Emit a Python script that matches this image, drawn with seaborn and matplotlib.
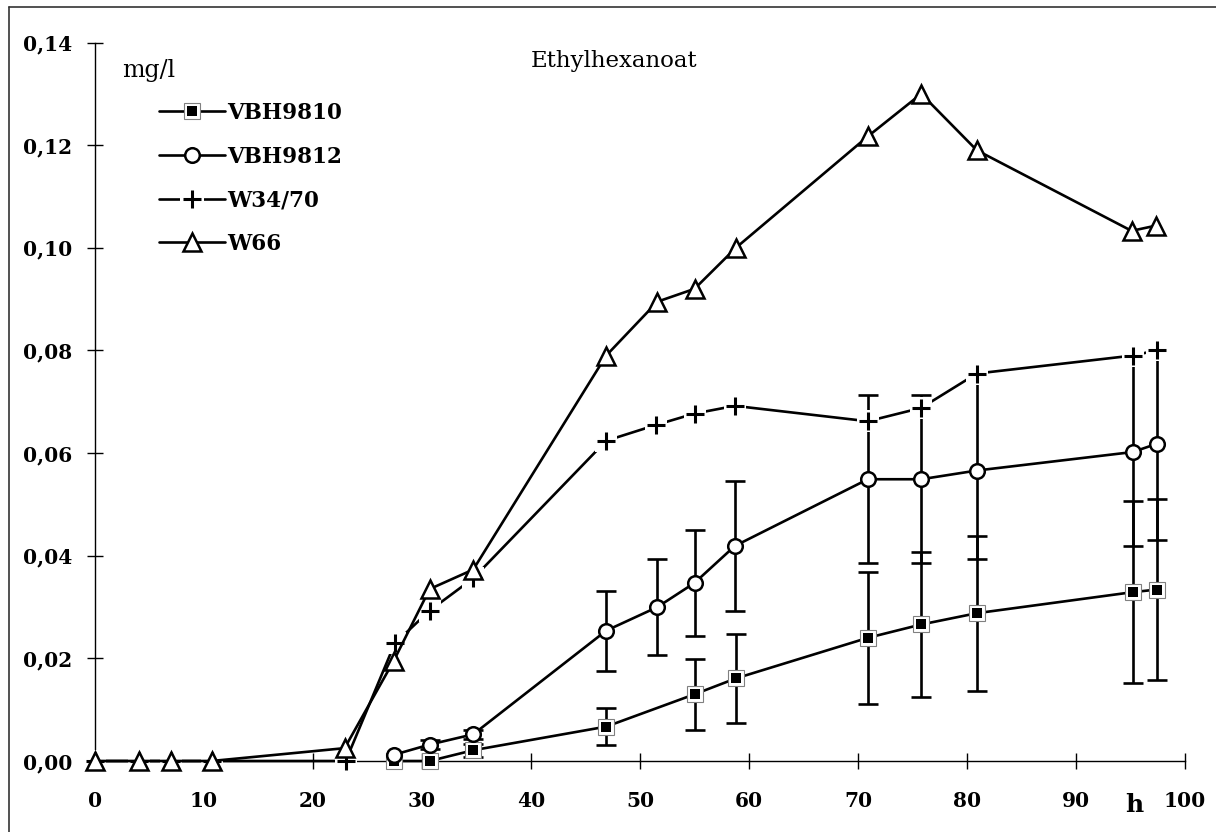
import numpy as np
import matplotlib
matplotlib.use("Agg")
import matplotlib.pyplot as plt
import seaborn as sns
from matplotlib.lines import Line2D
from matplotlib.legend_handler import HandlerTuple
from matplotlib.ticker import FuncFormatter

sns.set_style("ticks")
plt.rcParams["font.family"] = ["DejaVu Serif"]
for k in ["text.color", "axes.labelcolor", "xtick.color", "ytick.color", "axes.edgecolor"]:
    plt.rcParams[k] = "black"

# ---------------- data ----------------
title = "Ethylhexanoat"
unit_label = "mg/l"
x_label = "h"
names = ["VBH9810", "VBH9812", "W34/70", "W66"]

t_vbh9810 = [27.4, 30.7, 34.7, 46.9, 55.0, 58.8, 70.9, 75.8, 80.9, 95.2, 97.4]
v_vbh9810 = [0.0, 0.0, 0.0021, 0.0067, 0.0130, 0.0161, 0.0240, 0.0266, 0.0288, 0.0329, 0.0334]
e_vbh9810 = [0.0, 0.0, 0.0013, 0.0036, 0.0069, 0.0086, 0.0128, 0.0141, 0.0151, 0.0177, 0.0177]

t_vbh9812 = [27.4, 30.7, 34.7, 46.9, 51.6, 55.0, 58.7, 70.9, 75.8, 80.9, 95.2, 97.4]
v_vbh9812 = [0.0012, 0.0032, 0.0052, 0.0254, 0.0300, 0.0347, 0.0419, 0.0549, 0.0549, 0.0566, 0.0602, 0.0618]
e_vbh9812 = [0.0, 0.0008, 0.0009, 0.0078, 0.0093, 0.0104, 0.0127, 0.0164, 0.0164, 0.0173, 0.0183, 0.0188]

t_w3470 = [0, 4, 7, 10.7, 23.0, 27.5, 30.7, 34.7, 46.9, 51.5, 55.0, 58.7, 70.9, 75.8, 80.9, 95.2, 97.4]
v_w3470 = [0, 0, 0, 0, 0, 0.0229, 0.0293, 0.0356, 0.0624, 0.0655, 0.0677, 0.0692,
           0.0662, 0.0688, 0.0755, 0.0790, 0.0800]

t_w66 = [0, 4, 7, 10.7, 22.9, 27.4, 30.7, 34.7, 46.9, 51.6, 55.0, 58.8, 70.9, 75.8, 80.9, 95.1, 97.3]
v_w66 = [0, 0, 0, 0, 0.0025, 0.0195, 0.0335, 0.0373, 0.0790, 0.0895, 0.0920, 0.1000,
         0.1217, 0.1300, 0.1190, 0.1033, 0.1043]

x_ticks = [0, 10, 20, 30, 40, 50, 60, 70, 80, 90, 100]
y_ticks = [0.00, 0.02, 0.04, 0.06, 0.08, 0.10, 0.12, 0.14]

# ---------------- figure ----------------
W, H = 1216, 832
fig = plt.figure(figsize=(W / 100, H / 100), dpi=100)
ax = fig.add_axes([95 / W, 71 / H, 1090 / W, 718.5 / H])

LW = 1.9
ERR_KW = dict(fmt="none", ecolor="black", elinewidth=LW, capsize=7.5, capthick=LW)
PLUS_BG = 15.5


def draw_line(t, v, z):
    sns.lineplot(x=t, y=v, ax=ax, color="black", lw=LW, zorder=z, legend=False,
                 errorbar=None, clip_on=False)


def draw_markers(t, v, z, **kw):
    sns.lineplot(x=t, y=v, ax=ax, color="black", linestyle="none", zorder=z,
                 legend=False, errorbar=None, clip_on=False, **kw)


def draw_err(t, v, e, z):
    t = np.asarray(t); v = np.asarray(v); e = np.asarray(e)
    m = e > 0
    ax.errorbar(t[m], v[m], yerr=e[m], zorder=z, **ERR_KW)


# VBH9810 : black square with white ring and grey border
z = 2
draw_err(t_vbh9810, v_vbh9810, e_vbh9810, z)
draw_line(t_vbh9810, v_vbh9810, z + 0.1)
draw_markers(t_vbh9810, v_vbh9810, z + 0.2, marker="s", markersize=11,
             markerfacecolor="white", markeredgecolor="#808080", markeredgewidth=0.8)
draw_markers(t_vbh9810, v_vbh9810, z + 0.3, marker="s", markersize=7,
             markerfacecolor="black", markeredgecolor="black", markeredgewidth=0)

# VBH9812 : open circle
z = 3
draw_err(t_vbh9812, v_vbh9812, e_vbh9812, z)
draw_line(t_vbh9812, v_vbh9812, z + 0.1)
draw_markers(t_vbh9812, v_vbh9812, z + 0.2, marker="o", markersize=10.5,
             markerfacecolor="white", markeredgecolor="black", markeredgewidth=1.8)

# W34/70 : plus with white background
z = 4
draw_line(t_w3470, v_w3470, z + 0.1)
draw_markers(t_w3470, v_w3470, z + 0.2, marker="s", markersize=PLUS_BG,
             markerfacecolor="white", markeredgecolor="white", markeredgewidth=0)
draw_markers(t_w3470, v_w3470, z + 0.3, marker="+", markersize=12.5,
             markeredgecolor="black", markeredgewidth=2.2)

# W66 : open triangle
z = 5
draw_line(t_w66, v_w66, z + 0.1)
draw_markers(t_w66, v_w66, z + 0.2, marker="^", markersize=12.5,
             markerfacecolor="white", markeredgecolor="black", markeredgewidth=1.8)

# ---------------- axes styling ----------------
ax.set_xlim(0, 100)
ax.set_ylim(0, 0.14)
ax.set_xticks(x_ticks)
ax.set_yticks(y_ticks)
ax.yaxis.set_major_formatter(FuncFormatter(lambda v, p: f"{v:.2f}".replace(".", ",")))
ax.xaxis.set_major_formatter(FuncFormatter(lambda v, p: f"{v:.0f}"))
for s in ["top", "right"]:
    ax.spines[s].set_visible(False)
for s in ["left", "bottom"]:
    ax.spines[s].set_linewidth(1.0)
    ax.spines[s].set_color("black")
    ax.spines[s].set_zorder(1)
ax.tick_params(axis="both", direction="inout", length=11.5, width=1.0, color="black",
               labelcolor="black", labelsize=14.5)
ax.tick_params(axis="x", pad=16)
ax.tick_params(axis="y", pad=10.5)
for lab in ax.get_xticklabels() + ax.get_yticklabels():
    lab.set_fontweight("bold")
ax.set_xlabel("")
ax.set_ylabel("")

# texts
fig.text(614 / W, 1 - 66.7 / H, title, ha="center", va="baseline", fontsize=16.5, color="black")
fig.text(121.7 / W, 1 - 76.7 / H, unit_label, ha="left", va="baseline", fontsize=17, color="black")
fig.text(1134 / W, 1 - 811.7 / H, x_label, ha="center", va="baseline", fontsize=18,
         fontweight="bold", color="black")

# legend
h1 = (Line2D([], [], color="black", lw=LW, marker="s", ms=11, mfc="white", mec="#808080", mew=0.8),
      Line2D([], [], ls="none", marker="s", ms=7, mfc="black", mec="black", mew=0))
h2 = (Line2D([], [], color="black", lw=LW, marker="o", ms=10.5, mfc="white", mec="black", mew=1.8),)
h3 = (Line2D([], [], color="black", lw=LW, marker="s", ms=PLUS_BG + 1.5, mfc="white", mec="white", mew=0),
      Line2D([], [], ls="none", marker="+", ms=12.5, mec="black", mew=2.2))
h4 = (Line2D([], [], color="black", lw=LW, marker="^", ms=12.5, mfc="white", mec="black", mew=1.8),)
leg = ax.legend([h1, h2, h3, h4], names,
                handler_map={tuple: HandlerTuple(ndivide=1, pad=0)},
                loc="upper left", bbox_to_anchor=(159 / W, 1 - 102 / H),
                bbox_transform=fig.transFigure, frameon=False,
                handlelength=3.05, handletextpad=0.1, labelspacing=1.0,
                borderpad=0, borderaxespad=0,
                prop={"weight": "bold", "size": 15.5, "family": "DejaVu Serif"})
for txt in leg.get_texts():
    txt.set_color("black")
leg.set_zorder(20)

# outer frame (left and top edges)
fig.add_artist(Line2D([9 / W, 9 / W], [0, 1 - 7 / H], transform=fig.transFigure,
                      color="#333333", lw=1.2))
fig.add_artist(Line2D([9 / W, 1], [1 - 7 / H, 1 - 7 / H], transform=fig.transFigure,
                      color="#333333", lw=1.2))

fig.savefig("out.png", dpi=100)
